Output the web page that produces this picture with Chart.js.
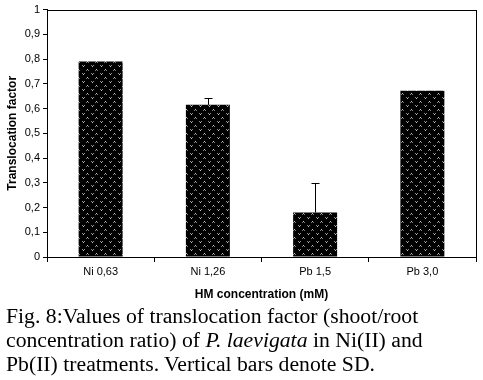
<!DOCTYPE html>
<html>
<head>
<meta charset="utf-8">
<script src="https://cdn.jsdelivr.net/npm/chart.js@4.4.0/dist/chart.umd.min.js"></script>
<style>
  html, body { margin:0; padding:0; background:#fff; }
  #wrap { position:relative; width:483px; height:380px; overflow:hidden; }
  #chartBox { position:absolute; left:0; top:0; width:483px; height:305px; }
  #caption { position:absolute; left:6px; top:304px; font-family:"Liberation Serif", serif; font-size:20px; line-height:24px; color:#000; white-space:nowrap; transform:scaleX(1.085); transform-origin:0 0; }
</style>
</head>
<body>
<div id="wrap">
  <div id="chartBox"><canvas id="c"></canvas></div>
  <div id="caption">Fig. 8:Values of translocation factor (shoot/root<br>concentration ratio) of <i>P. laevigata</i> in Ni(II) and<br>Pb(II) treatments. Vertical bars denote SD.</div>
</div>
<script>
const categories = ['Ni 0,63', 'Ni 1,26', 'Pb 1,5', 'Pb 3,0'];
const translocation = [0.79, 0.615, 0.18, 0.672];
const sdValues = [0, 0.028, 0.12, 0];
const yTicks = [0, 0.1, 0.2, 0.3, 0.4, 0.5, 0.6, 0.7, 0.8, 0.9, 1];

function makePattern() {
  const p = document.createElement('canvas');
  p.width = 9; p.height = 8;
  const g = p.getContext('2d');
  g.fillStyle = '#000'; g.fillRect(0, 0, 9, 8);
  g.fillStyle = '#8a8a8a';
  g.fillRect(1, 1, 1, 1); g.fillRect(3, 1, 1, 1);
  g.fillStyle = '#c8c8c8'; g.fillRect(2, 2, 1, 1);
  g.fillStyle = '#c8c8c8'; g.fillRect(6, 5, 1, 1);
  g.fillStyle = '#808080'; g.fillRect(5, 6, 1, 1); g.fillRect(7, 6, 1, 1);
  return g.createPattern(p, 'repeat');
}

const frame = {
  id: 'frame',
  afterDraw(chart) {
    const {ctx, chartArea: a} = chart;
    ctx.save();
    ctx.strokeStyle = '#000'; ctx.lineWidth = 1;
    ctx.strokeRect(Math.round(a.left) + 0.5, Math.round(a.top) + 0.5, Math.round(a.right - a.left), Math.round(a.bottom - a.top));
    ctx.restore();
  }
};

const errorBars = {
  id: 'errorBars',
  afterDatasetsDraw(chart) {
    const {ctx} = chart;
    const meta = chart.getDatasetMeta(0);
    const ys = chart.scales.y;
    ctx.save();
    ctx.strokeStyle = '#000'; ctx.lineWidth = 1;
    meta.data.forEach((bar, i) => {
      const sd = sdValues[i];
      if (!sd) return;
      const x = Math.round(bar.x) + 0.5;
      const y0 = ys.getPixelForValue(translocation[i]);
      const y1 = Math.round(ys.getPixelForValue(translocation[i] + sd)) + 0.5;
      ctx.beginPath();
      ctx.moveTo(x, y0); ctx.lineTo(x, y1);
      ctx.moveTo(x - 4, y1); ctx.lineTo(x + 4, y1);
      ctx.stroke();
    });
    ctx.restore();
  }
};

new Chart(document.getElementById('c'), {
  type: 'bar',
  data: {
    labels: categories,
    datasets: [{
      data: translocation,
      backgroundColor: makePattern(),
      borderWidth: 0,
      categoryPercentage: 1,
      barPercentage: 0.41
    }]
  },
  options: {
    responsive: true,
    maintainAspectRatio: false,
    animation: false,
    events: [],
    layout: { padding: { left: 0, right: 7, top: 7, bottom: 0 } },
    plugins: { legend: { display: false }, tooltip: { enabled: false } },
    scales: {
      x: {
        grid: { display: true, drawOnChartArea: false, offset: true, tickLength: 5, color: '#000', lineWidth: 1 },
        border: { color: '#000', width: 1 },
        ticks: { color: '#000', font: { family: 'Liberation Sans', size: 11 }, padding: 3, maxRotation: 0 },
        title: { display: true, text: 'HM concentration (mM)', color: '#000', font: { family: 'Liberation Sans', size: 12, weight: 'bold' }, padding: { top: 0, bottom: 3 } },
        afterFit(s) { s.height = 48; }
      },
      y: {
        min: 0, max: 1,
        afterBuildTicks(s) { s.ticks = yTicks.map(v => ({ value: v })); },
        grid: { display: true, drawOnChartArea: false, tickLength: 4, color: '#000', lineWidth: 1 },
        border: { color: '#000', width: 1 },
        ticks: { color: '#000', font: { family: 'Liberation Sans', size: 11 }, padding: 3,
          callback: v => String(Math.round(v * 10) / 10).replace('.', ',') },
        title: { display: true, text: 'Translocation factor', color: '#000', font: { family: 'Liberation Sans', size: 12, weight: 'bold' }, padding: { top: 5, bottom: 0 } },
        afterFit(s) { s.width = 47; }
      }
    }
  },
  plugins: [frame, errorBars]
});
</script>
</body>
</html>
